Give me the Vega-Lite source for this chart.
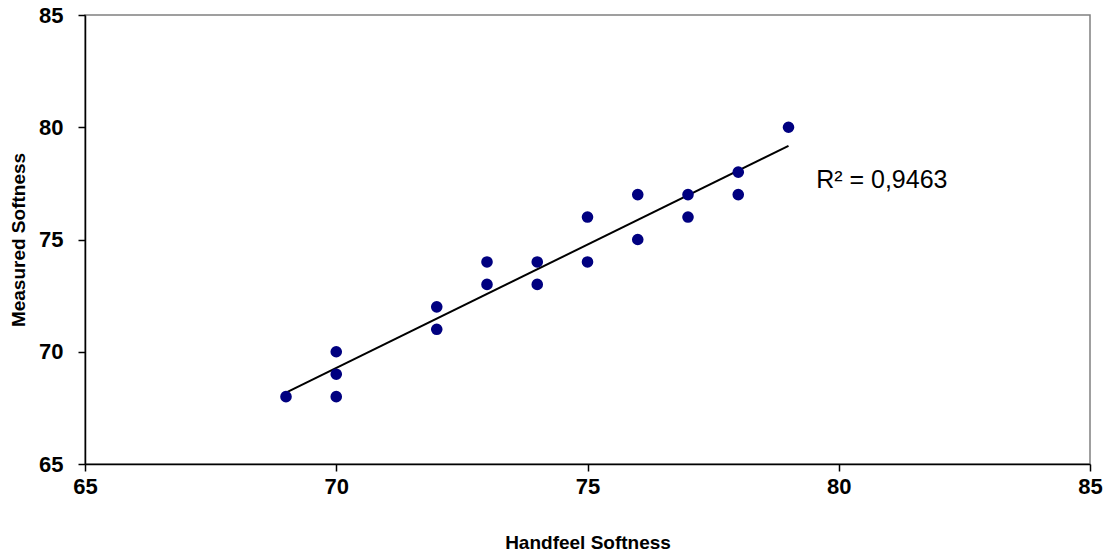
{
  "$schema": "https://vega.github.io/schema/vega-lite/v6.json",
  "autosize": "none",
  "width": 1005,
  "height": 449,
  "padding": {"left": 85, "top": 15, "right": 20, "bottom": 93},
  "background": "white",
  "config": {
    "font": "Liberation Sans",
    "view": {"stroke": "#808080", "strokeWidth": 1.5},
    "axis": {
      "grid": false,
      "domainColor": "black",
      "domainWidth": 1.5,
      "tickColor": "black",
      "tickWidth": 1.5,
      "tickSize": 7,
      "labelFont": "Liberation Sans",
      "labelFontSize": 22,
      "labelFontWeight": "bold",
      "labelColor": "black",
      "labelFlush": false,
      "labelOverlap": false,
      "titleFont": "Liberation Sans",
      "titleFontSize": 19,
      "titleFontWeight": "bold",
      "titleColor": "black"
    }
  },
  "resolve": {"scale": {"x": "shared", "y": "shared"}},
  "datasets": {
    "pts": [
      {"h": 69, "m": 68}, {"h": 70, "m": 70}, {"h": 70, "m": 69}, {"h": 70, "m": 68},
      {"h": 72, "m": 72}, {"h": 72, "m": 71}, {"h": 73, "m": 74}, {"h": 73, "m": 73},
      {"h": 74, "m": 74}, {"h": 74, "m": 73}, {"h": 75, "m": 76}, {"h": 75, "m": 74},
      {"h": 76, "m": 77}, {"h": 76, "m": 75}, {"h": 77, "m": 77}, {"h": 77, "m": 76},
      {"h": 78, "m": 78}, {"h": 78, "m": 77}, {"h": 79, "m": 80}
    ],
    "lab": [{"h": 79.55, "m": 77.65, "t": "R² = 0,9463"}]
  },
  "layer": [
    {
      "data": {"name": "pts"},
      "transform": [{"regression": "m", "on": "h", "extent": [69, 79]}],
      "mark": {"type": "line", "color": "black", "strokeWidth": 2},
      "encoding": {
        "x": {"field": "h", "type": "quantitative", "scale": {"domain": [65, 85], "nice": false, "zero": false}},
        "y": {"field": "m", "type": "quantitative", "scale": {"domain": [65, 85], "nice": false, "zero": false}}
      }
    },
    {
      "data": {"name": "pts"},
      "mark": {"type": "circle", "color": "#000080", "opacity": 1, "size": 135},
      "encoding": {
        "x": {"field": "h", "type": "quantitative", "scale": {"domain": [65, 85], "nice": false, "zero": false},
              "axis": {"values": [65, 70, 75, 80, 85], "title": "Handfeel Softness", "labelPadding": 5, "titlePadding": 36}},
        "y": {"field": "m", "type": "quantitative", "scale": {"domain": [65, 85], "nice": false, "zero": false},
              "axis": {"values": [65, 70, 75, 80, 85], "title": "Measured Softness", "labelPadding": 15, "titlePadding": 10}}
      }
    },
    {
      "data": {"name": "lab"},
      "mark": {"type": "text", "align": "left", "baseline": "middle", "fontSize": 25, "font": "Liberation Sans", "color": "black"},
      "encoding": {
        "x": {"field": "h", "type": "quantitative", "scale": {"domain": [65, 85], "nice": false, "zero": false}},
        "y": {"field": "m", "type": "quantitative", "scale": {"domain": [65, 85], "nice": false, "zero": false}},
        "text": {"field": "t"}
      }
    }
  ]
}
